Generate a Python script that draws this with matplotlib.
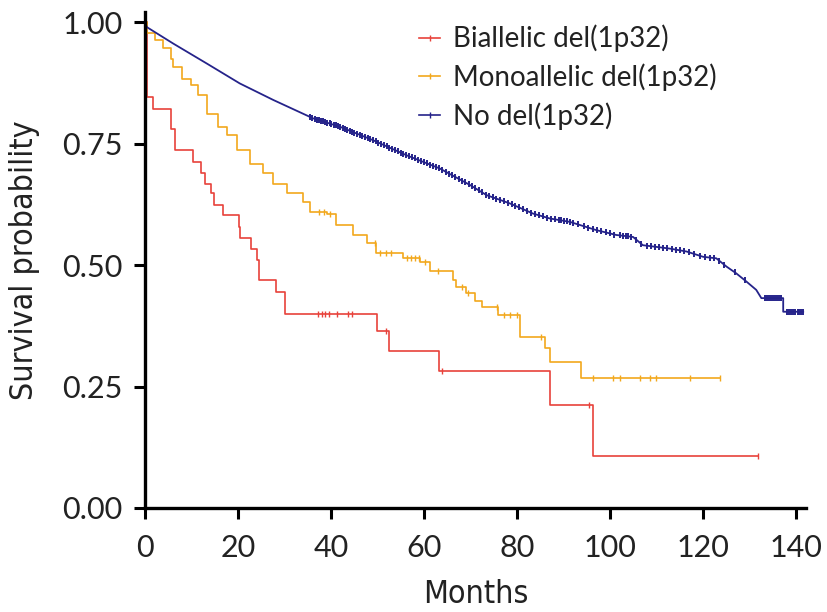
import numpy as np
import matplotlib
matplotlib.use("Agg")
import matplotlib.pyplot as plt
from matplotlib import font_manager
from matplotlib.lines import Line2D

# Kaplan-Meier estimates by 1p32 deletion status
labels = ["Biallelic del(1p32)", "Monoallelic del(1p32)", "No del(1p32)"]
colors = ["#e8423b", "#f2a81d", "#25238a"]

# biallelic: step times (months) and survival after each step
bi_time = [0, 0.4, 1.8, 5.7, 6.5, 10.4, 12.0, 12.9, 14.3, 14.8, 16.8, 20.2,
           20.5, 22.9, 24.0, 24.6, 28.2, 30.1, 50.0, 52.5, 63.3, 87.1, 96.4, 131.9]
bi_surv = [1.0, 0.846, 0.822, 0.781, 0.737, 0.713, 0.689, 0.668, 0.648, 0.623,
           0.603, 0.579, 0.555, 0.534, 0.510, 0.469, 0.445, 0.400, 0.365, 0.324,
           0.283, 0.213, 0.107, 0.107]
bi_cens = [37.3, 38.0, 38.7, 39.6, 41.4, 43.7, 44.5, 51.8, 63.8, 95.6, 131.9]

# monoallelic
mono_time = [0, 0.4, 2.2, 3.9, 5.7, 6.1, 7.9, 10.0, 11.5, 13.3, 15.8, 17.6,
             19.7, 22.6, 25.4, 27.6, 30.5, 34.0, 35.5, 39.1, 41.2, 44.8, 47.7,
             49.8, 55.5, 59.1, 61.3, 66.3, 67.0, 69.0, 71.0, 72.5, 76.0, 80.6,
             86.0, 87.1, 93.9, 123.7]
mono_surv = [1.0, 0.977, 0.963, 0.946, 0.925, 0.908, 0.884, 0.870, 0.850, 0.812,
             0.785, 0.767, 0.737, 0.709, 0.689, 0.668, 0.648, 0.630, 0.610, 0.606,
             0.582, 0.562, 0.545, 0.524, 0.514, 0.507, 0.488, 0.469, 0.454, 0.442,
             0.427, 0.413, 0.397, 0.352, 0.329, 0.301, 0.267, 0.267]
mono_cens = [37.5, 38.6, 39.8, 49.5, 50.6, 51.8, 53.0, 56.3, 57.2, 58.1, 59.0,
             60.2, 63.0, 68.2, 69.5, 75.8, 77.2, 78.6, 80.0, 85.2, 96.4, 100.7,
             102.2, 106.5, 108.6, 110.0, 117.2, 123.7]

# no deletion (large group, drawn as a smooth curve)
no_time = [0, 0.4, 6.1, 13.3, 20.4, 27.6, 36.2, 41.9, 49.1, 56.3, 63.4, 69.9,
           73.5, 78.5, 83.5, 87.1, 91.4, 97.1, 101.4, 105.0, 107.1, 112.9, 116.5,
           120.1, 122.9, 125.1, 127.2, 129.4, 131.5, 132.6, 137.3, 137.3, 141.6]
no_surv = [1.0, 0.990, 0.956, 0.915, 0.874, 0.840, 0.802, 0.785, 0.757, 0.726,
           0.699, 0.665, 0.644, 0.627, 0.606, 0.596, 0.589, 0.572, 0.562, 0.558,
           0.541, 0.534, 0.528, 0.517, 0.514, 0.497, 0.483, 0.466, 0.449, 0.432,
           0.432, 0.404, 0.404]
no_cens = [35.5, 36.0, 36.5, 37.0, 37.4, 37.9, 38.3, 38.8, 39.2, 39.7, 40.1,
           40.6, 41.0, 41.5, 42.0, 42.5, 43.0, 43.5, 44.1, 44.6, 45.0, 45.6,
           46.2, 46.7, 47.3, 47.9, 48.5, 49.0, 49.6, 50.2, 50.8, 51.4, 52.0,
           52.6, 53.1, 53.8, 54.4, 55.0, 55.6, 56.2, 56.9, 57.4, 58.0, 58.7,
           59.4, 60.0, 60.7, 61.3, 62.0, 62.6, 63.3, 64.0, 64.8, 65.4, 66.1,
           66.8, 67.5, 68.2, 68.9, 69.6, 70.4, 71.1, 71.8, 72.5, 73.3, 74.1,
           74.9, 75.6, 76.4, 77.2, 78.0, 78.9, 79.7, 80.5, 81.3, 82.1, 83.0,
           83.9, 84.8, 85.6, 86.5, 87.4, 88.3, 89.0, 89.6, 90.2, 90.8, 91.4,
           92.0, 93.2, 94.5, 95.4, 96.3, 97.2, 98.2, 99.1, 100.0, 101.0, 102.1,
           102.8, 103.5, 104.0, 104.6, 105.7, 106.8, 107.9, 108.9, 109.7, 110.5,
           111.5, 112.4, 113.4, 114.3, 115.2, 116.0, 117.1, 118.2, 119.3, 120.5,
           121.5, 122.4, 123.5, 124.6, 126.9, 129.1, 133.4, 133.8, 134.3, 134.7,
           135.1, 135.6, 136.0, 136.4, 136.8, 138.2, 138.6, 139.0, 139.5, 139.9,
           140.4, 140.8, 141.2, 141.6]

tick_font = "Lato"

# condensed face for the axis titles if one is installed
narrow = [f for f in font_manager.fontManager.ttflist
          if ("Narrow" in f.name or "Condensed" in f.name
              or f.stretch in ("condensed", "semi-condensed", "extra-condensed"))
          and f.style == "normal" and f.weight in (400, "normal", "regular")]
if narrow:
    label_prop = font_manager.FontProperties(fname=narrow[0].fname, size=23)
else:
    label_prop = font_manager.FontProperties(family="Roboto", size=21)

fig = plt.figure(figsize=(8.27, 6.12), dpi=100)
ax = fig.add_axes([0.1753, 0.170, 0.799, 0.810])

lw = 1.2
ax.step(bi_time, bi_surv, where="post", color=colors[0], lw=lw)
ax.step(mono_time, mono_surv, where="post", color=colors[1], lw=lw)
ax.plot(no_time, no_surv, color=colors[2], lw=1.3)


def step_value(times, surv, t):
    return surv[np.searchsorted(times, t, side="right") - 1]


# censoring marks sit on each curve
ax.plot(bi_cens, [step_value(bi_time, bi_surv, t) for t in bi_cens],
        ls="none", marker="|", ms=5, mew=1, color=colors[0])
ax.plot(mono_cens, [step_value(mono_time, mono_surv, t) for t in mono_cens],
        ls="none", marker="|", ms=5, mew=1, color=colors[1])
ax.plot(no_cens, np.interp(no_cens, no_time, no_surv),
        ls="none", marker="|", ms=4.5, mew=1.4, color=colors[2])

ax.set_xlim(0, 142.15)
ax.set_ylim(0, 1.0206)
ax.set_xticks([0, 20, 40, 60, 80, 100, 120, 140])
ax.set_yticks([0, 0.25, 0.5, 0.75, 1.0])
ax.set_yticklabels(["0.00", "0.25", "0.50", "0.75", "1.00"])

for side in ["top", "right"]:
    ax.spines[side].set_visible(False)
for side in ["left", "bottom"]:
    ax.spines[side].set_linewidth(2.4)
ax.tick_params(direction="out", length=8, width=2.2, labelsize=22, pad=8)
ax.tick_params(axis="x", pad=11)
for lab in ax.get_xticklabels() + ax.get_yticklabels():
    lab.set_family(tick_font)
    lab.set_color("#222222")

ax.set_xlabel("Months", fontproperties=label_prop, color="#222222", labelpad=12)
ax.set_ylabel("Survival probability", fontproperties=label_prop, color="#222222", labelpad=16)

handles = [Line2D([], [], color=c, lw=1.2, marker="|", ms=4, mew=1) for c in colors]
leg = ax.legend(handles, labels, loc="upper left", bbox_to_anchor=(0.415, 0.975),
                borderaxespad=0, borderpad=0,
                frameon=False, handlelength=0.75, handletextpad=0.45,
                labelspacing=0.4, prop={"family": tick_font, "size": 20})
for t in leg.get_texts():
    t.set_color("#222222")

fig.savefig("out.png", dpi=100)
